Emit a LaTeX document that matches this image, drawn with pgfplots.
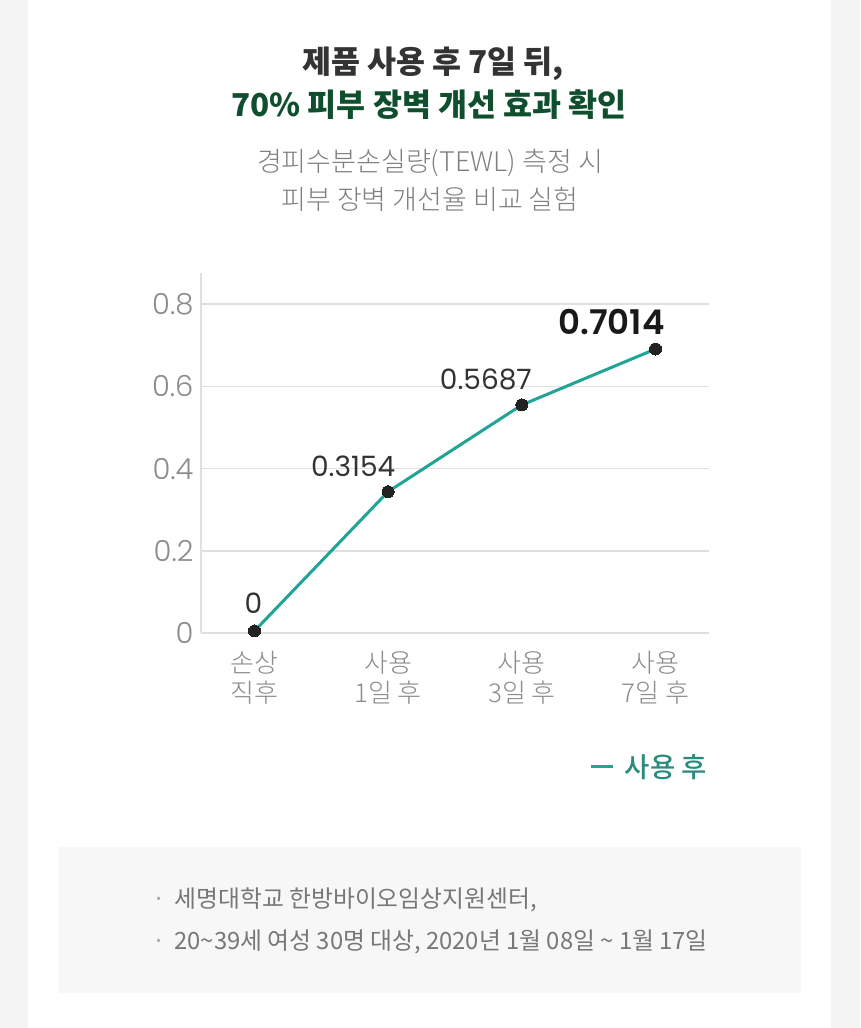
\documentclass[border=0pt]{standalone}
\usepackage{fontspec}
\usepackage{pgfplots}
\usepackage{pgfplotstable}
\pgfplotsset{compat=1.18}

\setmainfont{Noto Sans CJK KR}
\IfFontExistsTF{Noto Sans CJK KR Light}{\newfontfamily\krlight{Noto Sans CJK KR Light}}{\newfontfamily\krlight{Noto Sans CJK KR}}
\IfFontExistsTF{Noto Sans CJK KR Medium}{\newfontfamily\krmed{Noto Sans CJK KR Medium}}{\newfontfamily\krmed{Noto Sans CJK KR}}
\newfontfamily\numfont{Poppins}
\IfFontExistsTF{Poppins Light}{\newfontfamily\numlight{Poppins Light}}{\newfontfamily\numlight{Poppins}}
\IfFontExistsTF{Poppins SemiBold}{\newfontfamily\numbold{Poppins SemiBold}}{\newfontfamily\numbold{Poppins}[FakeBold=1.5]}

\definecolor{outerbg}{HTML}{F4F4F4}
\definecolor{boxbg}{HTML}{F7F7F7}
\definecolor{titlec}{HTML}{333333}
\definecolor{greenc}{HTML}{0F4F2E}
\definecolor{subc}{HTML}{808080}
\definecolor{tickc}{HTML}{8C8C8C}
\definecolor{gridc}{HTML}{E0E0E0}
\definecolor{linec}{HTML}{21A396}
\definecolor{legc}{HTML}{2A8A7E}
\definecolor{dotc}{HTML}{222222}
\definecolor{labc}{HTML}{333333}
\definecolor{notec}{HTML}{777777}

% values as drawn; labels as printed
\pgfplotstableread{
x y lab dx dy
0 0.005 0 -1 28
1 0.344 0.3154 -35 25
2 0.555 0.5687 -36 25
}\smalllabels
\pgfplotstableread{
x y lab dx dy
3 0.691 0.7014 -44 27
}\biglabel

\begin{document}
\begin{tikzpicture}[x=1pt,y=1pt]
% page and card
\fill[outerbg] (0,0) rectangle (860,-1028);
\fill[white] (28,0) rectangle (831,-1028);

% titles
\node[text=titlec, font=\bfseries\fontsize{31.5}{36}\selectfont] at (433,-64) {제품 사용 후 7일 뒤,};
\node[text=greenc, font=\bfseries\fontsize{31.5}{36}\selectfont] at (429,-105) {70\% 피부 장벽 개선 효과 확인};
\node[text=subc, font=\krlight\fontsize{27}{30}\selectfont] at (430,-163) {경피수분손실량(TEWL) 측정 시};
\node[text=subc, font=\krlight\fontsize{27}{30}\selectfont] at (430,-199) {피부 장벽 개선율 비교 실험};

\begin{axis}[
    at={(201pt,-633pt)}, anchor=south west,
    scale only axis,
    width=508pt, height=360pt,
    xmin=-0.4, xmax=3.4,
    ymin=0, ymax=0.876,
    axis lines=left,
    axis line style={draw=gridc, line width=1.6pt, -},
    ymajorgrids,
    grid style={gridc, line width=1.6pt},
    major tick length=0pt,
    xtick={0,1,2,3},
    xticklabels={{손상\\직후},{사용\\1일 후},{사용\\3일 후},{사용\\7일 후}},
    xticklabel style={align=center, text=tickc, font=\krlight\fontsize{26}{30}\selectfont, yshift=-15pt},
    ytick={0,0.2,0.4,0.6,0.8},
    yticklabels={0,0.2,0.4,0.6,0.8},
    yticklabel style={text=tickc, font=\numlight\fontsize{29}{29}\selectfont, xshift=-4pt},
    clip=false,
    legend style={at={(1,-0.372)}, anchor=east, draw=none, fill=none,
        font=\krmed\fontsize{27.5}{27.5}\selectfont, text=legc, inner sep=0pt},
    legend cell align=left,
    legend image code/.code={\draw[linec, line width=3pt] (-8pt,0pt) -- (14pt,0pt);},
]
\addplot[linec, line width=3pt, mark=*, mark size=6pt,
    mark options={fill=dotc, draw=dotc, line width=0pt}]
    coordinates {(0,0.005) (1,0.344) (2,0.555) (3,0.691)};
\addlegendentry{\hspace{8pt}사용 후}

\addplot[draw=none, mark=none, forget plot,
    nodes near coords, point meta=explicit symbolic,
    visualization depends on={\thisrow{dx}\as\dx},
    visualization depends on={\thisrow{dy}\as\dy},
    nodes near coords style={anchor=center, xshift=\dx pt, yshift=\dy pt,
        text=labc, font=\numfont\fontsize{28}{28}\selectfont, inner sep=0pt}]
    table[x=x, y=y, meta=lab] {\smalllabels};

\addplot[draw=none, mark=none, forget plot,
    nodes near coords, point meta=explicit symbolic,
    visualization depends on={\thisrow{dx}\as\dx},
    visualization depends on={\thisrow{dy}\as\dy},
    nodes near coords style={anchor=center, xshift=\dx pt, yshift=\dy pt,
        text=black!90, font=\numbold\fontsize{34}{34}\selectfont, inner sep=0pt}]
    table[x=x, y=y, meta=lab] {\biglabel};
\end{axis}

% note box
\fill[boxbg] (59,-847) rectangle (801,-993);
\node[anchor=west, text=notec, font=\fontsize{23.8}{28}\selectfont, inner sep=0pt] at (152,-900)
    {{\color{black!35}·}\hspace{9pt}세명대학교 한방바이오임상지원센터,};
\node[anchor=west, text=notec, font=\fontsize{23.8}{28}\selectfont, inner sep=0pt] at (152,-942)
    {{\color{black!35}·}\hspace{9pt}20\textasciitilde39세 여성 30명 대상, 2020년 1월 08일 \textasciitilde{} 1월 17일};
\end{tikzpicture}
\end{document}
